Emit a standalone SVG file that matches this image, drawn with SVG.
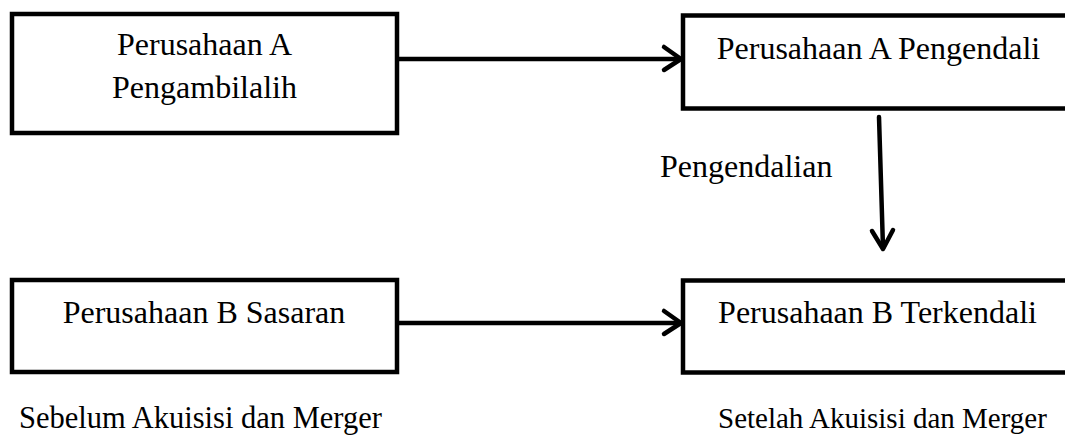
<svg xmlns="http://www.w3.org/2000/svg" width="1065" height="435" viewBox="0 0 1065 435">
<style>
.box{fill:#fff;stroke:#000;stroke-width:4.5}
.t{font-family:"Liberation Serif","Times New Roman",serif;font-size:32px;fill:#000}
.s{font-size:29px}
.s2{font-size:30.5px}
.c{text-anchor:middle}
.ln{fill:none;stroke:#000;stroke-width:4.5;stroke-linecap:round;stroke-linejoin:round}
</style>
<rect width="1065" height="435" fill="#fff"/>
<g id="connectors">
<line class="ln" x1="397" y1="59" x2="680" y2="59"/>
<polyline class="ln" points="664,47 681,59 664,70"/>
<line class="ln" x1="397" y1="323" x2="680" y2="323"/>
<polyline class="ln" points="664,311 681,323 664,334"/>
<line class="ln" x1="879" y1="117" x2="883" y2="248"/>
<polyline class="ln" points="872,231 883,249 893,230"/>
<text class="t" x="660" y="177">Pengendalian</text>
</g>
<g id="nodeA">
<rect class="box" x="12" y="14" width="385" height="119"/>
<text class="t c" x="204.5" y="55">Perusahaan A</text>
<text class="t c" x="204.5" y="98">Pengambilalih</text>
</g>
<g id="nodeA2">
<rect class="box" x="683" y="15.5" width="400" height="93"/>
<text class="t c" x="878.5" y="59">Perusahaan A Pengendali</text>
</g>
<g id="nodeB">
<rect class="box" x="12" y="280" width="385" height="92"/>
<text class="t c" x="204" y="323">Perusahaan B Sasaran</text>
</g>
<g id="nodeB2">
<rect class="box" x="683" y="280.5" width="400" height="92"/>
<text class="t c" x="877.5" y="323">Perusahaan B Terkendali</text>
</g>
<g id="labels">
<text class="t s2" x="19" y="428">Sebelum Akuisisi dan Merger</text>
<text class="t s" x="718" y="428">Setelah Akuisisi dan Merger</text>
</g>
</svg>
